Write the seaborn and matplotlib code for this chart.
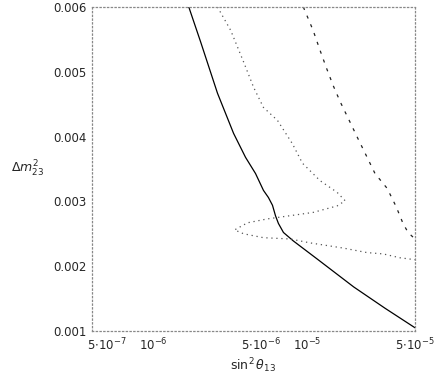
import numpy as np
import pandas as pd
import matplotlib
matplotlib.use("Agg")
import matplotlib.pyplot as plt
import seaborn as sns

# Solid curve
solid_x = [1.70e-6, 2.03e-6, 2.61e-6, 3.32e-6, 3.97e-6, 4.61e-6, 5.19e-6, 5.59e-6,
           5.94e-6, 6.21e-6, 6.49e-6, 7.00e-6, 8.11e-6, 1.16e-5, 2.0e-5, 3.2e-5, 5.0e-5]
solid_y = [0.00600, 0.00546, 0.00467, 0.00405, 0.00368, 0.00343, 0.00317, 0.00306,
           0.00294, 0.00278, 0.00266, 0.00252, 0.00239, 0.00211, 0.00168, 0.00135, 0.00105]

# Dotted curve (loops back)
dot_x = [2.61e-6, 3.18e-6, 3.86e-6, 4.48e-6, 5.19e-6, 6.40e-6, 8.00e-6, 9.29e-6,
         1.21e-5, 1.56e-5, 1.76e-5, 1.56e-5, 1.09e-5, 7.76e-6, 5.51e-6, 4.09e-6,
         3.37e-6, 3.86e-6, 5.19e-6, 7.76e-6, 1.04e-5, 1.71e-5, 2.44e-5, 3.10e-5,
         4.00e-5, 5.0e-5]
dot_y = [0.00600, 0.00564, 0.00515, 0.00476, 0.00445, 0.00425, 0.00389, 0.00359,
         0.00332, 0.00314, 0.00301, 0.00293, 0.00283, 0.00278, 0.00273, 0.00267,
         0.00256, 0.00250, 0.00244, 0.00242, 0.00236, 0.00228, 0.00221, 0.00219,
         0.00213, 0.00210]

# Dashed curve
dash_x = [9.42e-6, 1.09e-5, 1.21e-5, 1.33e-5, 1.47e-5, 1.64e-5, 1.87e-5, 2.11e-5,
          2.41e-5, 2.75e-5, 3.30e-5, 3.77e-5, 4.18e-5, 4.51e-5, 5.0e-5]
dash_y = [0.00600, 0.00564, 0.00533, 0.00506, 0.00479, 0.00453, 0.00425, 0.00399,
          0.00371, 0.00343, 0.00320, 0.00292, 0.00266, 0.00252, 0.00242]

x_ticks = [5e-7, 1e-6, 5e-6, 1e-5, 5e-5]
x_tick_labels = [r'$5{\cdot}10^{-7}$', r'$10^{-6}$', r'$5{\cdot}10^{-6}$',
                 r'$10^{-5}$', r'$5{\cdot}10^{-5}$']
y_ticks = [0.001, 0.002, 0.003, 0.004, 0.005, 0.006]
y_tick_labels = ['0.001', '0.002', '0.003', '0.004', '0.005', '0.006']

sns.set_style('white')
plt.rcParams['font.family'] = ['DejaVu Sans']
plt.rcParams['mathtext.fontset'] = 'dejavusans'

fig = plt.figure(figsize=(4.36, 3.78), dpi=100)
ax = fig.add_axes([92/436, 1-331/378, (415-92)/436, (331-7)/378])

df_s = pd.DataFrame({'x': solid_x, 'y': solid_y})
df_d = pd.DataFrame({'x': dot_x, 'y': dot_y})
df_a = pd.DataFrame({'x': dash_x, 'y': dash_y})

sns.lineplot(data=df_s, x='x', y='y', sort=False, estimator=None, ax=ax,
             color='black', linewidth=0.9)
sns.lineplot(data=df_d, x='x', y='y', sort=False, estimator=None, ax=ax,
             color='#555555', linewidth=0.9, linestyle=(0, (1, 3)))
sns.lineplot(data=df_a, x='x', y='y', sort=False, estimator=None, ax=ax,
             color='#222222', linewidth=0.9, linestyle=(0, (2.5, 5)))

ax.set_xscale('log')
ax.set_xlim(4e-7, 5e-5)
ax.set_ylim(0.001, 0.006)
ax.set_xticks(x_ticks)
ax.set_xticklabels(x_tick_labels, fontsize=8.5)
ax.xaxis.set_minor_locator(matplotlib.ticker.NullLocator())
ax.set_yticks(y_ticks)
ax.set_yticklabels(y_tick_labels, fontsize=8.5)
ax.tick_params(length=0, pad=4)

for sp in ax.spines.values():
    sp.set_linestyle((0, (1, 2)))
    sp.set_color('#888888')
    sp.set_linewidth(0.9)

ax.set_xlabel(r'$\sin^2\theta_{13}$', fontsize=9, labelpad=2)
ax.set_ylabel(r'$\Delta m^2_{23}$', fontsize=9, rotation=0, labelpad=14)
ax.yaxis.set_label_coords(-0.2, 0.47)

fig.savefig('out.png', dpi=100)
